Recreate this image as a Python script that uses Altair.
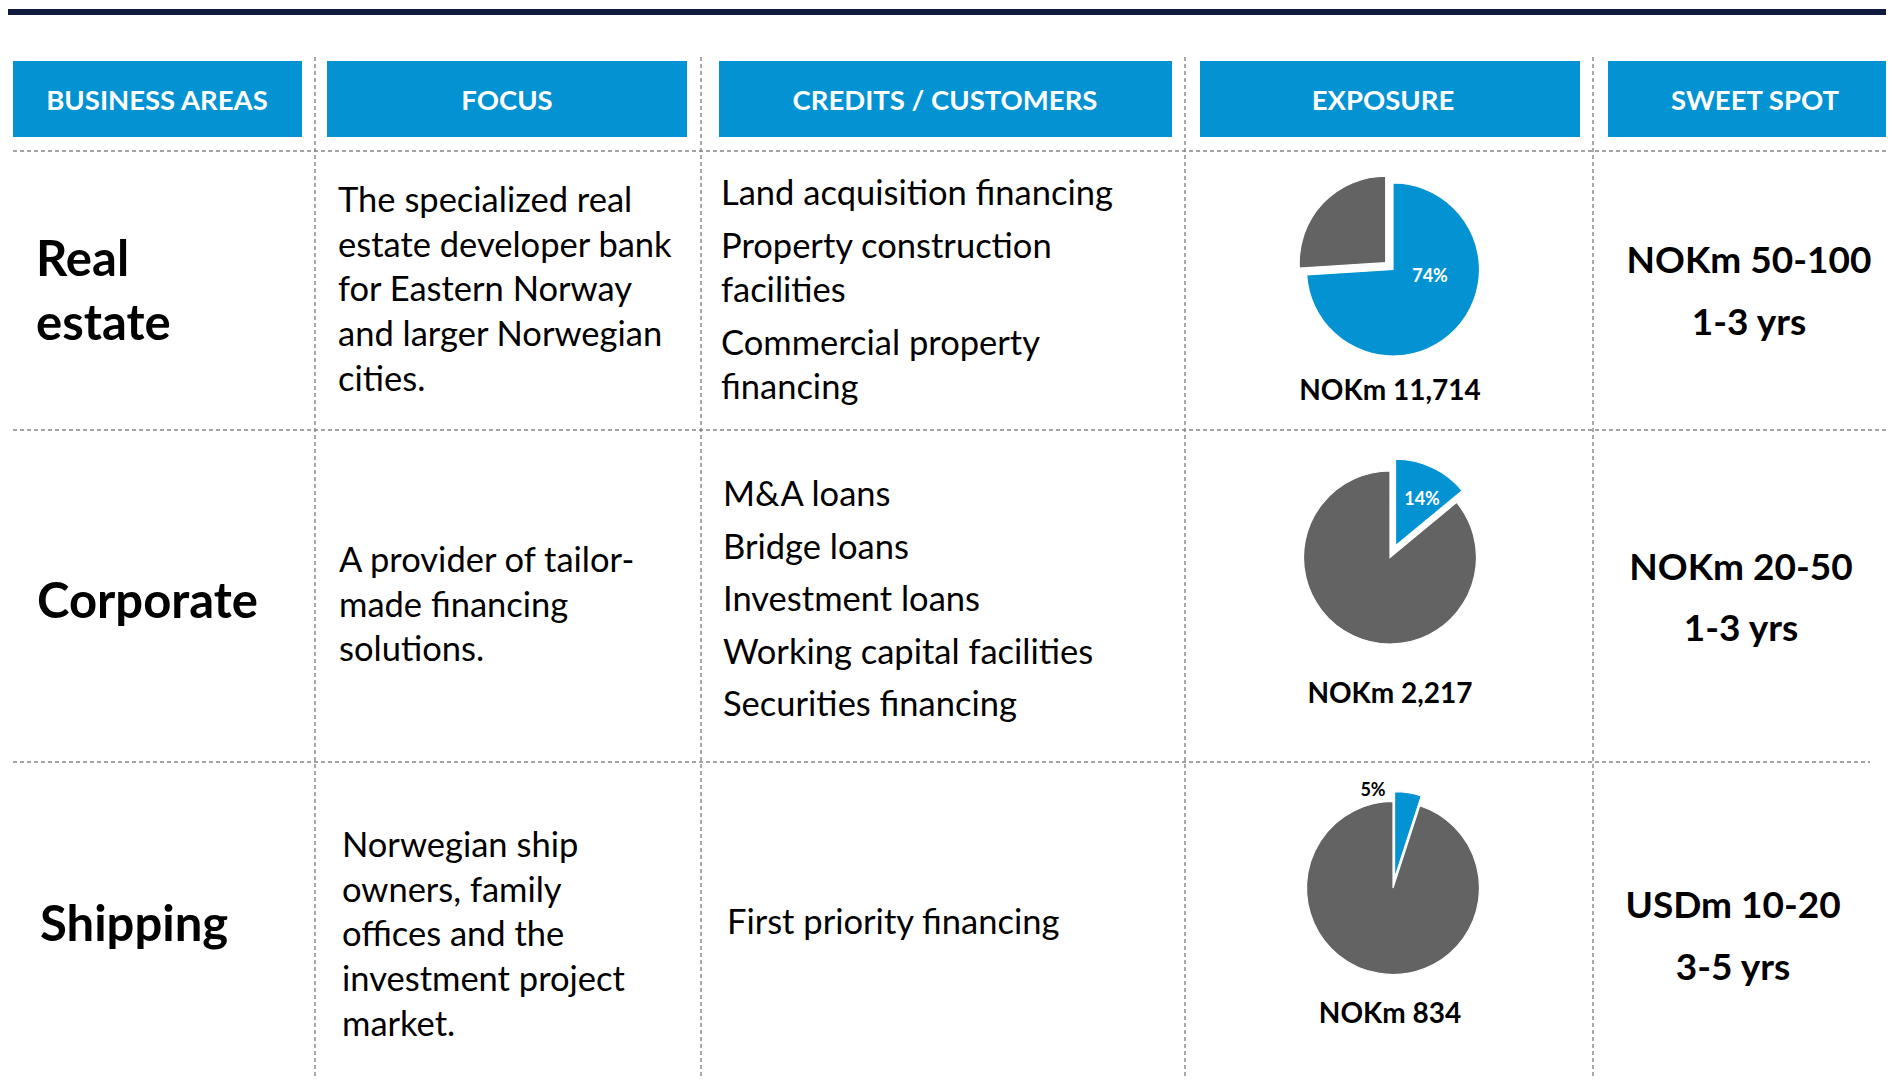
import math
import altair as alt
import pandas as pd

# ---------------- content ----------------
header_labels = ["BUSINESS AREAS", "FOCUS", "CREDITS / CUSTOMERS", "EXPOSURE", "SWEET SPOT"]
areas = [["Real", "estate"], ["Corporate"], ["Shipping"]]
focus = [
    ["The specialized real", "estate developer bank", "for Eastern Norway",
     "and larger Norwegian", "cities."],
    ["A provider of tailor-", "made financing", "solutions."],
    ["Norwegian ship", "owners, family", "offices and the",
     "investment project", "market."],
]
credits = [
    [["Land acquisition financing"], ["Property construction", "facilities"],
     ["Commercial property", "financing"]],
    [["M&A loans"], ["Bridge loans"], ["Investment loans"],
     ["Working capital facilities"], ["Securities financing"]],
    [["First priority financing"]],
]
exposure_share = [74, 14, 5]          # % of total exposure (blue slice)
exposure_nokm = [11714, 2217, 834]    # NOKm
sweet_amount = ["NOKm 50-100", "NOKm 20-50", "USDm 10-20"]
sweet_tenor = ["1-3 yrs", "1-3 yrs", "3-5 yrs"]

# ---------------- layout / style ----------------
FONT = "Lato"
BLUE = "#0393d3"
GRAY = "#636363"
NAVY = "#101b3f"
DASH = "#858585"
W, H = 1878, 1068
X0, Y0 = 8, 8

header_box_x = [(13, 302), (327, 687), (719, 1172), (1200, 1580), (1608, 1900)]
header_box_y = (61, 137)
header_text_x = [157, 507, 945, 1383, 1755]
header_text_y = 102

vlines_x = [315, 701, 1185, 1593]
vline_y = (57, 1100)
hlines = [(151, 13, 1900), (430, 13, 1900), (762, 13, 1870)]

area_x = [36, 37, 40]
area_y0 = [261, 603, 926]
area_step = 64

focus_x = [338, 339, 342]
focus_y0 = [202, 562, 847]
focus_step = 44.7

credit_x = [721, 723, 727]
credit_y0 = [195, 496, 924]
credit_item_step = [53, 52.5, 52.5]
credit_line_step = 44

pie_cx = [1393, 1390, 1393]
pie_cy = [269.5, 557.5, 888]
pie_r = 86.5
explode = [("rest", 10), ("share", 13), ("share", 10)]
pie_label_xy = [(1430, 277, "white"), (1422, 500, "white"), (1373, 791, "black")]

expo_label_x = 1390
expo_label_y = [392, 695, 1015]

sweet_x = [1749, 1741, 1733]
sweet_amount_y = [262, 569, 907]
sweet_tenor_y = [324, 630, 969]

xs = alt.Scale(domain=[X0, X0 + W], nice=False, zero=False)
ys = alt.Scale(domain=[Y0, Y0 + H], nice=False, zero=False, reverse=True)


def XY(xf="x", yf="y"):
    return dict(
        x=alt.X(f"{xf}:Q", scale=xs, axis=None),
        y=alt.Y(f"{yf}:Q", scale=ys, axis=None),
    )


# top navy rule
top_df = pd.DataFrame([{"x": 8, "x2": 1900, "y": 9, "y2": 15}])
top = alt.Chart(top_df).mark_rect(color=NAVY).encode(
    x2="x2:Q", y2="y2:Q", **XY())

# header boxes
hdr_df = pd.DataFrame([
    {"x": a, "x2": b, "y": header_box_y[0], "y2": header_box_y[1],
     "tx": tx, "ty": header_text_y, "label": lab}
    for (a, b), tx, lab in zip(header_box_x, header_text_x, header_labels)
])
hdr_boxes = alt.Chart(hdr_df).mark_rect(color=BLUE).encode(
    x2="x2:Q", y2="y2:Q", **XY())
hdr_text = alt.Chart(hdr_df).mark_text(
    font=FONT, fontSize=27.5, fontWeight="bold", color="white",
    align="center", baseline="middle").encode(text="label:N", **XY("tx", "ty"))

# dashed grid lines
rules = []
for x in vlines_x:
    rules.append({"x": x, "x2": x, "y": vline_y[0], "y2": vline_y[1]})
for y, a, b in hlines:
    rules.append({"x": a, "x2": b, "y": y, "y2": y})
rule_df = pd.DataFrame(rules)
grid = alt.Chart(rule_df).mark_rule(
    color=DASH, strokeWidth=1.4, strokeDash=[4, 3]).encode(
    x2="x2:Q", y2="y2:Q", **XY())

# business areas
area_rows = []
for i, lines in enumerate(areas):
    for j, t in enumerate(lines):
        area_rows.append({"x": area_x[i], "y": area_y0[i] + j * area_step, "t": t})
area_text = alt.Chart(pd.DataFrame(area_rows)).mark_text(
    font=FONT, fontSize=49, fontWeight="bold", color="black",
    align="left", baseline="middle").encode(text="t:N", **XY())

# focus + credits (regular body text)
body_rows = []
for i, lines in enumerate(focus):
    for j, t in enumerate(lines):
        body_rows.append({"x": focus_x[i], "y": focus_y0[i] + j * focus_step, "t": t})
for i, items in enumerate(credits):
    y = credit_y0[i]
    for k, item in enumerate(items):
        for j, t in enumerate(item):
            body_rows.append({"x": credit_x[i], "y": y + j * credit_line_step, "t": t})
        y += (len(item) - 1) * credit_line_step + credit_item_step[i]
body_text = alt.Chart(pd.DataFrame(body_rows)).mark_text(
    font=FONT, fontSize=34.5, color="black",
    align="left", baseline="middle").encode(text="t:N", **XY())

# pies
pie_rows = []
for i, s in enumerate(exposure_share):
    for part, a, b in (("share", 0, s), ("rest", s, 100)):
        mid = math.radians((a + b) / 2 * 3.6)
        d = explode[i][1] if explode[i][0] == part else 0
        pie_rows.append({
            "pie": i, "part": part, "start": a, "end": b,
            "x": pie_cx[i] + d * math.sin(mid),
            "y": pie_cy[i] - d * math.cos(mid),
        })
pie_df = pd.DataFrame(pie_rows)
pies = alt.Chart(pie_df).mark_arc(radius=pie_r, stroke="white", strokeWidth=1.2).encode(
    theta=alt.Theta("start:Q", scale=alt.Scale(domain=[0, 100], range=[0, 2 * math.pi])),
    theta2="end:Q",
    color=alt.Color("part:N", scale=alt.Scale(domain=["share", "rest"], range=[BLUE, GRAY]),
                    legend=None),
    **XY())

pct_df = pd.DataFrame([
    {"x": px, "y": py, "c": c, "t": f"{s}%"}
    for (px, py, c), s in zip(pie_label_xy, exposure_share)
])
pct_text = alt.Chart(pct_df).mark_text(
    font=FONT, fontSize=18, fontWeight="bold", align="center", baseline="middle").encode(
    text="t:N", color=alt.Color("c:N", scale=None), **XY())

expo_df = pd.DataFrame([
    {"x": expo_label_x, "y": y, "t": f"NOKm {v:,}"}
    for v, y in zip(exposure_nokm, expo_label_y)
])
expo_text = alt.Chart(expo_df).mark_text(
    font=FONT, fontSize=28, fontWeight="bold", color="black",
    align="center", baseline="middle").encode(text="t:N", **XY())

# sweet spot
sw_rows = []
for i in range(3):
    sw_rows.append({"x": sweet_x[i], "y": sweet_amount_y[i], "t": sweet_amount[i]})
    sw_rows.append({"x": sweet_x[i], "y": sweet_tenor_y[i], "t": sweet_tenor[i]})
sweet_text = alt.Chart(pd.DataFrame(sw_rows)).mark_text(
    font=FONT, fontSize=37, fontWeight="bold", color="black",
    align="center", baseline="middle").encode(text="t:N", **XY())

chart = alt.layer(
    top, hdr_boxes, hdr_text, grid, area_text, body_text,
    pies, pct_text, expo_text, sweet_text,
).properties(
    width=W, height=H, padding=0, autosize=alt.AutoSizeParams(type="none"),
    background="white",
).configure_view(strokeWidth=0)

chart.save("out.html", embed_options={"renderer": "svg", "actions": False})
